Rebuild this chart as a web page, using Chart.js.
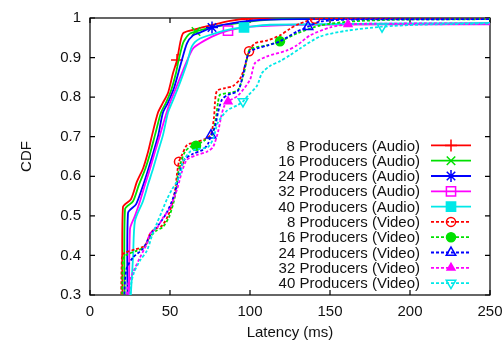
<!DOCTYPE html>
<html>
<head>
<meta charset="utf-8">
<script src="https://cdn.jsdelivr.net/npm/chart.js@4/dist/chart.umd.min.js"></script>
<style>
html,body{margin:0;padding:0;background:#fff;overflow:hidden;width:502px;height:343px;}
#wrap{position:relative;width:520px;height:343px;}
canvas{display:block;}
</style>
</head>
<body>
<div id="wrap"><canvas id="c" width="520" height="343"></canvas></div>
<script>
// ---- data (latency in ms, CDF) ----
const xTicks = [0, 50, 100, 150, 200, 250];
const yTicks = [0.3, 0.4, 0.5, 0.6, 0.7, 0.8, 0.9, 1];
const seriesLabels = [
  '8 Producers (Audio)', '16 Producers (Audio)', '24 Producers (Audio)', '32 Producers (Audio)', '40 Producers (Audio)',
  '8 Producers (Video)', '16 Producers (Video)', '24 Producers (Video)', '32 Producers (Video)', '40 Producers (Video)'
];

const a8x = [20.6, 20.6, 25.6, 29.4, 33.1, 36.3, 38.8, 42.5, 45.6, 48.8, 51.9, 54.4, 56.3, 58.1, 62.5, 75, 87.5, 98, 131, 250];
const a8y = [0.2, 0.522, 0.542, 0.587, 0.619, 0.662, 0.704, 0.761, 0.786, 0.811, 0.861, 0.894, 0.936, 0.961, 0.968, 0.981, 0.993, 0.998, 1, 1];
const a8m = [54.4, 98];

const a16x = [21.9, 21.9, 26.9, 30.6, 34.4, 37.5, 40.6, 44.4, 47.5, 50.6, 53.75, 55, 58.1, 60.6, 62.5, 66.25, 78.1, 93.75, 112.5, 143.75, 250];
const a16y = [0.2, 0.517, 0.537, 0.579, 0.617, 0.657, 0.704, 0.761, 0.786, 0.816, 0.861, 0.886, 0.936, 0.953, 0.961, 0.966, 0.978, 0.988, 0.996, 1, 1];
const a16m = [66.25];

const a24x = [23.75, 23.75, 28.75, 32.5, 35.6, 38.75, 42.5, 45.6, 48.75, 52.5, 56.9, 60.6, 64.4, 68.75, 76.25, 87.5, 106, 131, 250];
const a24y = [0.2, 0.507, 0.529, 0.569, 0.607, 0.649, 0.701, 0.761, 0.786, 0.823, 0.886, 0.936, 0.956, 0.963, 0.976, 0.986, 0.995, 0.997, 0.998];
const a24m = [76.25];

const a32x = [24.4, 25, 28.1, 31.25, 34.4, 37.5, 40.6, 43.75, 47.5, 50, 53.75, 60, 64.4, 68.75, 76.25, 86.25, 100, 131, 250];
const a32y = [0.2, 0.467, 0.5, 0.537, 0.579, 0.619, 0.662, 0.704, 0.756, 0.786, 0.823, 0.886, 0.923, 0.936, 0.953, 0.968, 0.978, 0.983, 0.984];
const a32m = [86.25];

const a40x = [24.0, 26.9, 28.1, 33.1, 36.25, 39.4, 42.5, 45.6, 48.75, 51.25, 55, 60.6, 63.75, 68.75, 78.1, 87.5, 96.25, 112.5, 250];
const a40y = [0.2, 0.395, 0.487, 0.537, 0.579, 0.619, 0.662, 0.704, 0.761, 0.786, 0.823, 0.886, 0.929, 0.948, 0.961, 0.971, 0.976, 0.983, 0.9875];
const a40m = [96.25];

const v8x = [19.4, 20, 21.9, 28.1, 34.4, 37.5, 40.6, 45, 48.75, 51.25, 53.1, 54.4, 55.6, 57.5, 60.6, 65.6, 71.9, 75.6, 77.5, 78.1, 79.4, 84.4, 89.4, 93.75, 96.9, 99.4, 103.1, 110.6, 118.75, 125, 131.25, 140.6, 150, 250];
const v8y = [0.2, 0.4, 0.407, 0.415, 0.425, 0.455, 0.467, 0.475, 0.5, 0.529, 0.562, 0.607, 0.637, 0.654, 0.679, 0.686, 0.694, 0.706, 0.749, 0.786, 0.816, 0.823, 0.828, 0.846, 0.879, 0.916, 0.936, 0.943, 0.956, 0.973, 0.986, 0.998, 1, 1];
const v8m = [55.6, 99.4, 140.6];

const v16x = [20, 20.6, 23.1, 29.4, 34.4, 37.5, 41.25, 45.6, 49.4, 51.9, 53.75, 55, 56.9, 59.4, 62.5, 66.25, 71.9, 76.25, 78.75, 80, 81.25, 87.5, 92.5, 96.25, 98.1, 100, 110.6, 118.75, 129.4, 143.75, 162.5, 193.75, 250];
const v16y = [0.2, 0.392, 0.402, 0.412, 0.422, 0.447, 0.462, 0.472, 0.497, 0.529, 0.562, 0.607, 0.637, 0.662, 0.674, 0.677, 0.692, 0.704, 0.749, 0.786, 0.806, 0.811, 0.818, 0.861, 0.898, 0.921, 0.931, 0.941, 0.961, 0.981, 0.991, 0.996, 0.997];
const v16m = [66.25, 118.75];

const v24x = [20.6, 21.9, 23.1, 26.9, 33.1, 36.9, 39.4, 43.75, 47.5, 51.25, 53.75, 55.6, 57.5, 59.4, 64.4, 70.6, 73.75, 75.6, 78.1, 80, 82.5, 86.25, 92.5, 95.6, 97.5, 100, 104.4, 111.25, 118.75, 129.4, 136.25, 143.75, 162.5, 250];
const v24y = [0.2, 0.337, 0.37, 0.395, 0.417, 0.445, 0.462, 0.482, 0.505, 0.537, 0.569, 0.604, 0.629, 0.644, 0.657, 0.667, 0.682, 0.704, 0.724, 0.761, 0.794, 0.806, 0.816, 0.856, 0.891, 0.916, 0.923, 0.931, 0.941, 0.966, 0.978, 0.991, 0.996, 0.997];
const v24m = [75.6, 136.25];

const v32x = [21.5, 23.75, 26.9, 31.25, 35.6, 37.5, 41.9, 45.6, 50, 54.4, 57.5, 60.6, 66.9, 73.1, 76.9, 80, 81.9, 83.75, 86.25, 92.5, 100, 103.1, 110.6, 123.1, 129.4, 137.5, 150, 161.25, 193.75, 250];
const v32y = [0.2, 0.325, 0.357, 0.395, 0.43, 0.455, 0.47, 0.495, 0.52, 0.567, 0.612, 0.642, 0.654, 0.662, 0.674, 0.712, 0.749, 0.776, 0.789, 0.804, 0.844, 0.886, 0.903, 0.918, 0.931, 0.956, 0.976, 0.984, 0.986, 0.986];
const v32m = [86.25, 161.25];

const v40x = [23.5, 25.6, 27.5, 31.25, 35.6, 38.75, 41.9, 45, 48.1, 51.25, 54.4, 56.9, 58.1, 62.5, 67.5, 73.75, 76.9, 80, 85.6, 91.9, 95.6, 98.75, 104.4, 107.5, 112.5, 118.75, 125, 131.25, 143.75, 160.6, 182.5, 205.6, 250];
const v40y = [0.2, 0.325, 0.357, 0.387, 0.412, 0.45, 0.482, 0.512, 0.542, 0.567, 0.587, 0.612, 0.637, 0.662, 0.669, 0.674, 0.694, 0.736, 0.766, 0.779, 0.789, 0.804, 0.829, 0.861, 0.879, 0.891, 0.906, 0.923, 0.953, 0.968, 0.978, 0.983, 0.986];
const v40m = [95.6, 182.5];

// ---- styles ----
const seriesData = [
  [a8x, a8y, a8m], [a16x, a16y, a16m], [a24x, a24y, a24m], [a32x, a32y, a32m], [a40x, a40y, a40m],
  [v8x, v8y, v8m], [v16x, v16y, v16m], [v24x, v24y, v24m], [v32x, v32y, v32m], [v40x, v40y, v40m]
];
const styles = [
  {color: '#ff0000', dash: [], ps: 'cross', r: 6, fill: false, rot: 0},
  {color: '#00e000', dash: [], ps: 'crossRot', r: 6, fill: false, rot: 0},
  {color: '#0000ff', dash: [], ps: 'star', r: 6, fill: false, rot: 0},
  {color: '#ff00ff', dash: [], ps: 'rect', r: 6.5, fill: false, rot: 0},
  {color: '#00e8e8', dash: [], ps: 'rect', r: 6.5, fill: true, rot: 0},
  {color: '#ff0000', dash: [3, 2], ps: 'circle', r: 4.5, fill: false, rot: 0},
  {color: '#00e000', dash: [3, 2], ps: 'circle', r: 4.5, fill: true, rot: 0},
  {color: '#0000ff', dash: [3, 2], ps: 'triangle', r: 5.5, fill: false, rot: 0},
  {color: '#ff00ff', dash: [3, 2], ps: 'triangle', r: 4.5, fill: true, rot: 0},
  {color: '#00e8e8', dash: [3, 2], ps: 'triangle', r: 5.5, fill: false, rot: 180}
];

const datasets = seriesData.map(([xs, ys, ms], i) => {
  const s = styles[i];
  return {
    label: seriesLabels[i],
    data: xs.map((x, k) => ({x: x, y: ys[k]})),
    borderColor: s.color,
    backgroundColor: s.fill ? s.color : 'rgba(0,0,0,0)',
    borderWidth: 1.8,
    borderDash: s.dash,
    tension: 0.25,
    fill: false,
    pointStyle: s.ps,
    pointRotation: s.rot,
    pointBorderColor: s.color,
    pointBackgroundColor: s.fill ? s.color : 'rgba(0,0,0,0)',
    pointBorderWidth: 1.5,
    pointRadius: (ctx) => (ctx.raw && ms.includes(ctx.raw.x)) ? s.r : 0,
    pointHoverRadius: 0,
    order: 20 - i
  };
});

const FONT = "'Liberation Sans', Arial, Helvetica, sans-serif";
Chart.defaults.font.family = FONT;
Chart.defaults.font.size = 15;
Chart.defaults.color = '#111';

const gnuplotLook = {
  id: 'gnuplotLook',
  beforeDatasetsDraw(chart) {
    const {ctx, chartArea: a, scales} = chart;
    ctx.save();
    ctx.strokeStyle = '#000';
    ctx.lineWidth = 1.2;
    ctx.setLineDash([]);
    ctx.strokeRect(a.left, a.top, a.right - a.left, a.bottom - a.top);
    ctx.beginPath();
    xTicks.forEach(v => {
      const px = scales.x.getPixelForValue(v);
      ctx.moveTo(px, a.bottom); ctx.lineTo(px, a.bottom - 5);
      ctx.moveTo(px, a.top); ctx.lineTo(px, a.top + 5);
    });
    yTicks.forEach(v => {
      const py = scales.y.getPixelForValue(v);
      ctx.moveTo(a.left, py); ctx.lineTo(a.left + 5, py);
      ctx.moveTo(a.right, py); ctx.lineTo(a.right - 5, py);
    });
    ctx.stroke();
    ctx.restore();
  },
  afterDraw(chart) {
    const {ctx} = chart;
    const textRight = 420, lineL = 431, lineR = 471, top = 145.4, step = 15.3;
    ctx.save();
    ctx.font = '15px ' + FONT;
    ctx.textAlign = 'right';
    ctx.textBaseline = 'middle';
    chart.data.datasets.forEach((ds, i) => {
      const s = styles[i];
      const y = top + i * step;
      ctx.fillStyle = '#111';
      ctx.fillText(ds.label, textRight, y + 1);
      ctx.strokeStyle = s.color;
      ctx.lineWidth = 1.8;
      ctx.setLineDash(s.dash);
      ctx.beginPath();
      ctx.moveTo(lineL, y); ctx.lineTo(lineR, y);
      ctx.stroke();
      ctx.setLineDash([]);
      ctx.lineWidth = 1.5;
      ctx.fillStyle = s.fill ? s.color : 'rgba(0,0,0,0)';
      Chart.helpers.drawPoint(ctx, {pointStyle: s.ps, radius: s.r, rotation: s.rot, borderWidth: 1.5}, (lineL + lineR) / 2, y);
    });
    ctx.restore();
  }
};

new Chart(document.getElementById('c'), {
  type: 'line',
  data: {datasets: datasets},
  options: {
    responsive: false,
    animation: false,
    devicePixelRatio: 1,
    events: [],
    layout: {padding: {left: 0, right: 30, top: 14, bottom: 0}},
    plugins: {legend: {display: false}, tooltip: {enabled: false}, title: {display: false}},
    scales: {
      x: {
        type: 'linear', min: 0, max: 250,
        afterBuildTicks: (s) => { s.ticks = xTicks.map(v => ({value: v})); },
        afterFit: (s) => { s.height = 48; },
        grid: {display: false, drawTicks: false},
        border: {display: false},
        ticks: {padding: 8, color: '#111', font: {size: 15}, callback: (v) => String(v), maxRotation: 0},
        title: {display: true, text: 'Latency (ms)', color: '#111', font: {size: 15}, padding: {top: 0, bottom: 1}}
      },
      y: {
        type: 'linear', min: 0.3, max: 1,
        afterBuildTicks: (s) => { s.ticks = yTicks.map(v => ({value: v})); },
        afterFit: (s) => { s.width = 90; },
        grid: {display: false, drawTicks: false},
        border: {display: false},
        ticks: {padding: 9, color: '#111', font: {size: 15}, callback: (v) => String(v)},
        title: {display: true, text: 'CDF', color: '#111', font: {size: 15}, padding: {top: 18, bottom: 0}}
      }
    }
  },
  plugins: [gnuplotLook]
});
</script>
</body>
</html>
